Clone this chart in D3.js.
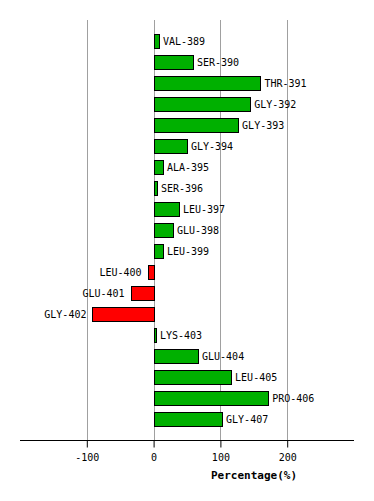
<!DOCTYPE html>
<html>
<head>
<meta charset="utf-8">
<script src="https://cdn.jsdelivr.net/npm/d3@7"></script>
<style>
  body { margin: 0; background: #fff; }
  svg { display: block; }
  .lbl { font-family: "DejaVu Sans Mono", monospace; font-size: 10px; }
  .axis text { font-family: "DejaVu Sans Mono", monospace; font-size: 10px; }
</style>
</head>
<body>
<div id="chart"></div>
<script>
// residues and their percentage values
var residues = ['VAL-389', 'SER-390', 'THR-391', 'GLY-392', 'GLY-393', 'GLY-394', 'ALA-395',
  'SER-396', 'LEU-397', 'GLU-398', 'LEU-399', 'LEU-400', 'GLU-401', 'GLY-402', 'LYS-403',
  'GLU-404', 'LEU-405', 'PRO-406', 'GLY-407'];
var values = [8, 59, 160, 144.5, 126.5, 50, 14, 5, 38, 29, 14, -9, -34.5, -91.5, 3.5, 66.5, 116, 171.5, 102.5];
var ticks = [-100, 0, 100, 200];

var width = 374, height = 501;

var x = d3.scaleLinear().domain([-200, 300]).range([20, 354]);
var y = d3.scaleBand().domain(residues).range([31.3, 430.3]).paddingInner(6 / 21).paddingOuter(3 / 21);

var svg = d3.select('#chart').append('svg')
  .attr('width', width)
  .attr('height', height);

// vertical grid lines
svg.selectAll('.grid')
  .data(ticks).enter()
  .append('line')
  .attr('class', 'grid')
  .attr('x1', function(d) { return Math.round(x(d)) + 0.5; })
  .attr('x2', function(d) { return Math.round(x(d)) + 0.5; })
  .attr('y1', 20)
  .attr('y2', 440)
  .attr('stroke', '#a0a0a0')
  .attr('stroke-width', 1);

var data = residues.map(function(r, i) { return { name: r, value: values[i] }; });

svg.selectAll('.bar')
  .data(data).enter()
  .append('rect')
  .attr('class', 'bar')
  .attr('x', function(d) { return Math.round(x(Math.min(0, d.value))) + 0.5; })
  .attr('y', function(d) { return Math.round(y(d.name)) + 0.5; })
  .attr('width', function(d) {
    return Math.max(1, Math.round(x(Math.max(0, d.value))) - Math.round(x(Math.min(0, d.value))));
  })
  .attr('height', Math.round(y.bandwidth()) - 1)
  .attr('fill', function(d) { return d.value < 0 ? '#ff0000' : '#00b000'; })
  .attr('stroke', '#000')
  .attr('stroke-width', 1);

svg.selectAll('.lbl')
  .data(data).enter()
  .append('text')
  .attr('class', 'lbl')
  .attr('x', function(d) { return d.value < 0 ? x(d.value) - 6 : x(d.value) + 4; })
  .attr('y', function(d) { return y(d.name) + y.bandwidth() / 2; })
  .attr('dy', '0.36em')
  .attr('text-anchor', function(d) { return d.value < 0 ? 'end' : 'start'; })
  .text(function(d) { return d.name; });

var xAxis = d3.axisBottom(x).tickValues(ticks).tickSize(7).tickPadding(6).tickFormat(d3.format('d'));

var gx = svg.append('g')
  .attr('class', 'axis')
  .attr('transform', 'translate(0,440.5)')
  .call(xAxis);
gx.select('.domain').attr('stroke', '#000').attr('d', 'M20,0H354');
gx.selectAll('.tick line').attr('stroke', '#000');
gx.selectAll('.tick text').attr('fill', '#000').text(function(d) { return d < 0 ? '-' + Math.abs(d) : d; });

svg.append('text')
  .attr('x', 254)
  .attr('y', 479)
  .attr('text-anchor', 'middle')
  .style('font-family', '"DejaVu Sans Mono", monospace')
  .style('font-size', '11px')
  .style('font-weight', 'bold')
  .text('Percentage(%)');
</script>
</body>
</html>
